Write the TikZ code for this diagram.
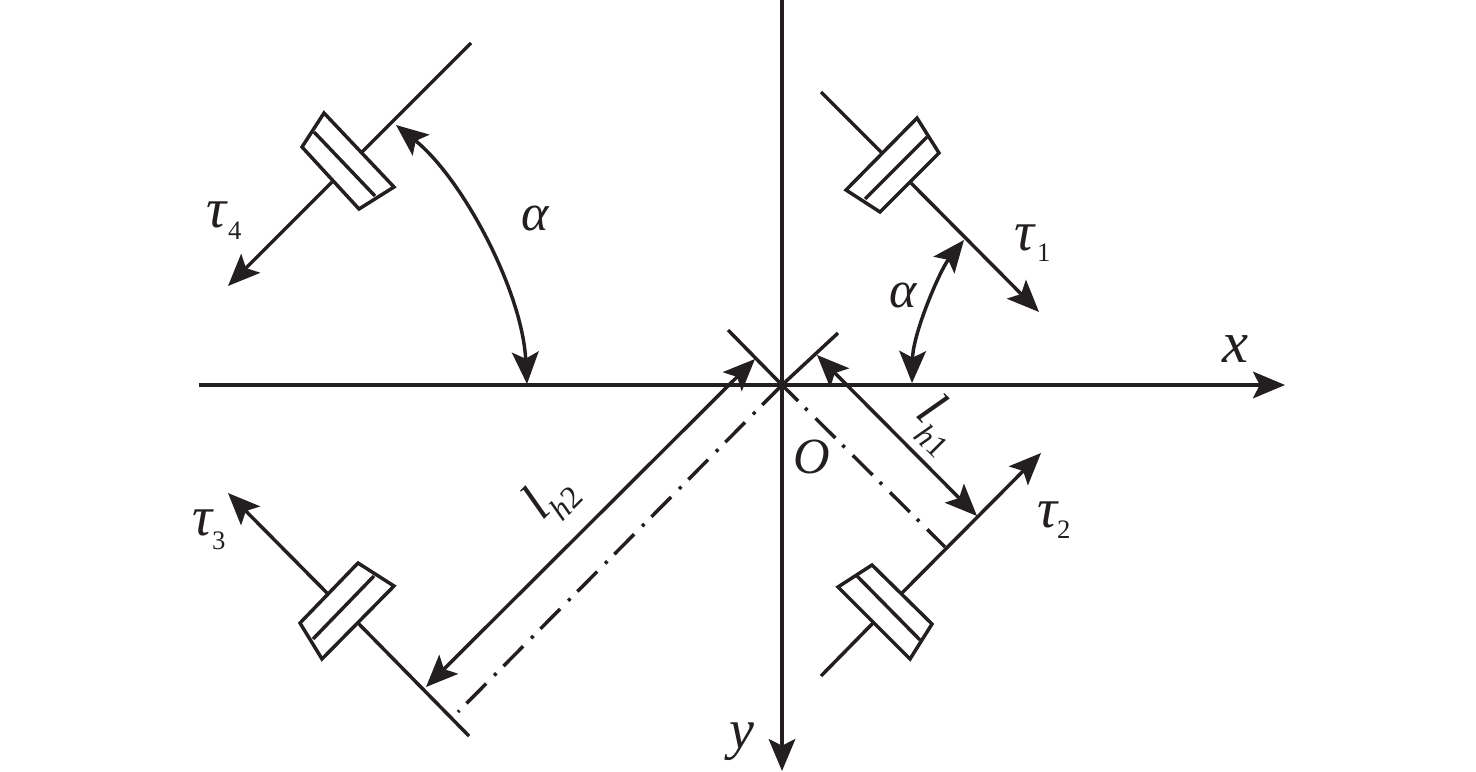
\documentclass[tikz,border=0pt]{standalone}
\usepackage{fontspec}
\setmainfont{Liberation Serif}
\usetikzlibrary{arrows.meta}
\definecolor{ink}{HTML}{231F20}
\tikzset{
  ln/.style={draw=ink,line width=2.6pt},
  axis/.style={draw=ink,line width=2.3pt,-{Stealth[length=24pt,width=20pt,inset=5pt]}},
  head/.style={ln,-{Stealth[length=24pt,width=20pt,inset=5pt]}},
  dhead/.style={ln,{Stealth[length=24pt,width=20pt,inset=5pt]}-{Stealth[length=24pt,width=20pt,inset=5pt]}},
  ddash/.style={ln,dash pattern=on 21pt off 7.5pt on 2.4pt off 8.5pt},
  lab/.style={anchor=base west,inner sep=0pt,outer sep=0pt,text=ink,font=\fontsize{42}{42}\selectfont\itshape},
  sub/.style={anchor=base west,inner sep=0pt,outer sep=0pt,text=ink,font=\fontsize{20}{20}\selectfont},
}
\begin{document}
\begin{tikzpicture}[x=0.75pt,y=-0.75pt]
\useasboundingbox (0,0) rectangle (1476,771);
% axes
\coordinate (O) at (782,385);
\coordinate (xs) at (199,385); \coordinate (xe) at (1285,385);
\coordinate (ys) at (782,0); \coordinate (ye) at (782,771);
\draw[axis] (xs) -- (xe);
\draw[axis] (ys) -- (ye);
% ticks at origin
\coordinate (tr) at (838,333); \coordinate (tl) at (728,330);
\draw[ln] (O) -- (tr);
\draw[ln] (O) -- (tl);
% dash-dot lines
\coordinate (d1) at (945,547); \coordinate (d2) at (458,712);
\draw[ddash,dash phase=4pt] (O) -- (d1);
\draw[ddash] (O) -- (d2);
% wheel 1
\coordinate (a1) at (917,118); \coordinate (b1) at (939,153); \coordinate (c1) at (880,212); \coordinate (e1) at (846,190);
\coordinate (f1) at (927,137); \coordinate (g1) at (865,199);
\coordinate (s1) at (821,92); \coordinate (t1) at (882,153); \coordinate (u1) at (911,183); \coordinate (v1) at (1039,312);
\draw[ln] (a1) -- (b1) -- (c1) -- (e1) -- cycle;
\draw[ln] (f1) -- (g1);
\draw[ln] (s1) -- (t1);
\draw[head] (u1) -- (v1);
% wheel 2
\coordinate (a2) at (872,565); \coordinate (b2) at (932,624); \coordinate (c2) at (910,659); \coordinate (e2) at (838,587);
\coordinate (f2) at (857,576); \coordinate (g2) at (920,640);
\coordinate (s2) at (821,676); \coordinate (t2) at (873,623); \coordinate (u2) at (902,593); \coordinate (v2) at (1041,453);
\draw[ln] (a2) -- (b2) -- (c2) -- (e2) -- cycle;
\draw[ln] (f2) -- (g2);
\draw[ln] (s2) -- (t2);
\draw[head] (u2) -- (v2);
% wheel 3
\coordinate (a3) at (358,563); \coordinate (b3) at (394,586); \coordinate (c3) at (322,659); \coordinate (e3) at (300,623);
\coordinate (f3) at (374,576); \coordinate (g3) at (313,639);
\coordinate (s3) at (469,736); \coordinate (t3) at (358,623); \coordinate (u3) at (328,594); \coordinate (v3) at (228,493);
\draw[ln] (a3) -- (b3) -- (c3) -- (e3) -- cycle;
\draw[ln] (f3) -- (g3);
\draw[ln] (s3) -- (t3);
\draw[head] (u3) -- (v3);
% wheel 4
\coordinate (a4) at (324,113); \coordinate (b4) at (394,187); \coordinate (c4) at (359,209); \coordinate (e4) at (302,147);
\coordinate (f4) at (314,132); \coordinate (g4) at (375,196);
\coordinate (s4) at (471,43); \coordinate (t4) at (362,152); \coordinate (u4) at (332,182); \coordinate (v4) at (228,286);
\draw[ln] (a4) -- (b4) -- (c4) -- (e4) -- cycle;
\draw[ln] (f4) -- (g4);
\draw[ln] (s4) -- (t4);
\draw[head] (u4) -- (v4);
% dimension arrows
\coordinate (h1a) at (817,355); \coordinate (h1b) at (977,516);
\coordinate (h2a) at (755,359); \coordinate (h2b) at (426,687);
\draw[dhead] (h1a) -- (h1b);
\draw[dhead] (h2a) -- (h2b);
% angle arcs
\coordinate (r1) at (964,240); \coordinate (r2) at (912,383);
\draw[dhead] (r1) .. controls (940,270) and (913,333) .. (r2);
\coordinate (l1) at (396,125); \coordinate (l2) at (527,384);
\draw[dhead] (l1) .. controls (462,178) and (522,290) .. (l2);
% labels
\node[lab,font=\fontsize{44}{44}\selectfont\itshape] (lx) at (1222,362) {x};
\node[lab,font=\fontsize{42}{42}\selectfont\itshape] (ly) at (729,748) {y};
\node[lab,font=\fontsize{38}{38}\selectfont\itshape] (lo) at (793,473) {O};
\node[lab,font=\fontsize{39}{39}\selectfont\itshape] (la1) at (889,307) {α};
\node[lab,font=\fontsize{39}{39}\selectfont\itshape] (la2) at (521,230) {α};
\node[lab] (tau1) at (1014,250) {τ}; \node[sub] (n1) at (1037,261) {1};
\node[lab] (tau2) at (1037,527) {τ}; \node[sub] (n2) at (1057,538) {2};
\node[lab] (tau3) at (192,535) {τ}; \node[sub] (n3) at (212,549) {3};
\node[lab] (tau4) at (206,227) {τ}; \node[sub] (n4) at (228,239) {4};
\node[lab,rotate=-45,anchor=center,font=\fontsize{40}{40}\selectfont\itshape] (lh1) at (933,408) {l};
\node[sub,rotate=-45,anchor=center,font=\fontsize{24}{24}\selectfont] (sh1) at (932,441) {\textit{h}1};
\node[lab,rotate=45,anchor=center,font=\fontsize{40}{40}\selectfont\itshape] (lh2) at (535,503) {l};
\node[sub,rotate=45,anchor=center,font=\fontsize{24}{24}\selectfont] (sh2) at (566,503) {\textit{h}2};
\end{tikzpicture}
\end{document}
